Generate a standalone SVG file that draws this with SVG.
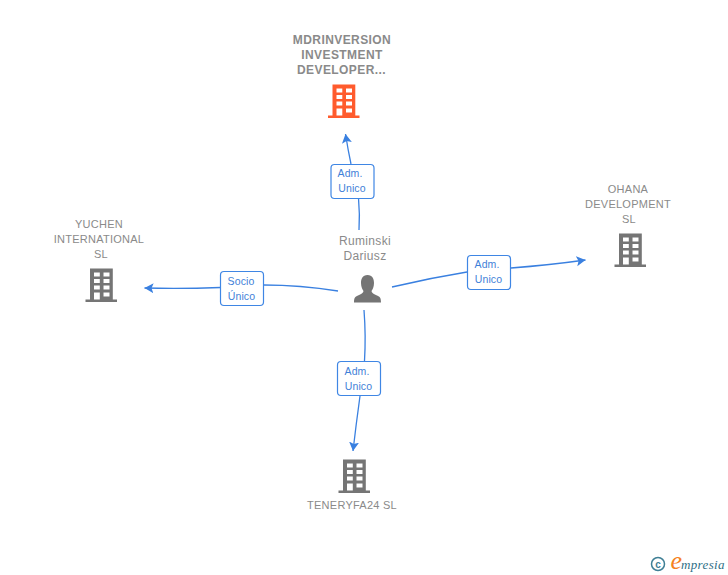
<svg xmlns="http://www.w3.org/2000/svg" width="728" height="575" viewBox="0 0 728 575">
<style>
.lbl{font-family:"Liberation Sans",Arial,sans-serif;font-size:11px;letter-spacing:.25px;fill:#8a8a8a;text-anchor:middle}
.b{font-weight:bold;font-size:12px;letter-spacing:.42px}
.p{font-size:12px;letter-spacing:.35px}
.box{fill:#fff;stroke:#3f86e4;stroke-width:1.2}
.bt{font-family:"Liberation Sans",Arial,sans-serif;font-size:10.5px;letter-spacing:.1px;fill:#3f7fd8;text-anchor:middle}
.e{fill:none;stroke:#3a80e0;stroke-width:1.3}
</style>
<defs>
<marker id="a" markerUnits="userSpaceOnUse" markerWidth="11" markerHeight="11" refX="9" refY="5" orient="auto"><path d="M0 0L9 5L0 10L2 5Z" fill="#3a80e0"/></marker>
<path id="bld" fill-rule="evenodd" d="M4.500 0H27.300V31H31.500V33.500H0V31H4.500ZM8.500 4V8H14.300V4ZM18 4V8H24V4ZM8.500 10.500V14.500H14.300V10.500ZM18 10.500V14.500H24V10.500ZM8.500 17V21H14.300V17ZM18 17V21H24V17ZM8.500 24V31H14.300V24ZM18 24V28H24V24Z"/>
</defs>
<rect width="728" height="575" fill="#fff"/>
<g id="connectors">
<path class="e" d="M359 230Q360 215 358.500 198"/>
<path class="e" d="M351 164Q348 150 345.500 134" marker-end="url(#a)"/>
<path class="e" d="M392 287Q430 278 467 272"/>
<path class="e" d="M511 268Q550 265 585.500 260" marker-end="url(#a)"/>
<path class="e" d="M338 291Q300 285 264 285"/>
<path class="e" d="M220.500 287.500Q180 289 144.500 288" marker-end="url(#a)"/>
<path class="e" d="M364 310Q366 336 364.500 361"/>
<path class="e" d="M360 396Q356 425 353 451" marker-end="url(#a)"/>
<rect class="box" x="331" y="164.500" width="43" height="34" rx="3.500"/>
<text class="bt" x="350" y="177">Adm.</text><text class="bt" x="352" y="192">Unico</text>
<rect class="box" x="467.500" y="255.500" width="43" height="34" rx="3.500"/>
<text class="bt" x="487" y="268">Adm.</text><text class="bt" x="488.500" y="283">Unico</text>
<rect class="box" x="220.500" y="271.500" width="43" height="34" rx="3.500"/>
<text class="bt" x="241" y="285">Socio</text><text class="bt" x="241.500" y="300">Único</text>
<rect class="box" x="337.500" y="361.500" width="43" height="34" rx="3.500"/>
<text class="bt" x="357" y="375">Adm.</text><text class="bt" x="358.500" y="390">Unico</text>
</g>
<g id="node-mdrinversion">
<text class="lbl b" x="342" y="44">MDRINVERSION</text>
<text class="lbl b" x="342" y="59">INVESTMENT</text>
<text class="lbl b" x="341.500" y="74">DEVELOPER...</text>
<use href="#bld" x="328" y="84.500" fill="#ff5b2d"/>
</g>
<g id="node-ohana">
<text class="lbl" x="628" y="193">OHANA</text>
<text class="lbl" x="628" y="208">DEVELOPMENT</text>
<text class="lbl" x="629" y="223">SL</text>
<use href="#bld" x="614.500" y="233.500" fill="#757575"/>
</g>
<g id="node-yuchen">
<text class="lbl" x="99" y="228">YUCHEN</text>
<text class="lbl" x="99" y="243">INTERNATIONAL</text>
<text class="lbl" x="101" y="258">SL</text>
<use href="#bld" x="85.500" y="268.500" fill="#757575"/>
</g>
<g id="node-teneryfa">
<use href="#bld" x="338.500" y="459.500" fill="#757575"/>
<text class="lbl" x="352" y="509">TENERYFA24 SL</text>
</g>
<g id="node-ruminski">
<text class="lbl p" x="365" y="245">Ruminski</text>
<text class="lbl p" x="365" y="260">Dariusz</text>
<path fill="#757575" d="M367.500 275C362.500 275 361 279 361 283C361 287 362.500 289.500 363.500 291C363.500 293 361 294 358 295.500C355 296.500 354 298 354 302.500H381C381 298 380 296.500 377 295.500C374 294 371.500 293 371.500 291C372.500 289.500 374 287 374 283C374 279 372.500 275 367.500 275Z"/>
</g>
<g id="logo">
<circle cx="658" cy="564" r="6.500" fill="none" stroke="#3f7f95" stroke-width="1.500"/>
<text x="658" y="567.500" font-family="'Liberation Sans',sans-serif" font-size="10" font-weight="bold" fill="#3f7f95" text-anchor="middle">c</text>
<text x="670.500" y="569" font-family="'Liberation Serif',serif" font-style="italic" font-size="26" fill="#f5821f">e</text>
<text x="681" y="569" font-family="'Liberation Serif',serif" font-style="italic" font-size="13" letter-spacing=".35" fill="#2f6f86">mpresia</text>
</g>
</svg>
